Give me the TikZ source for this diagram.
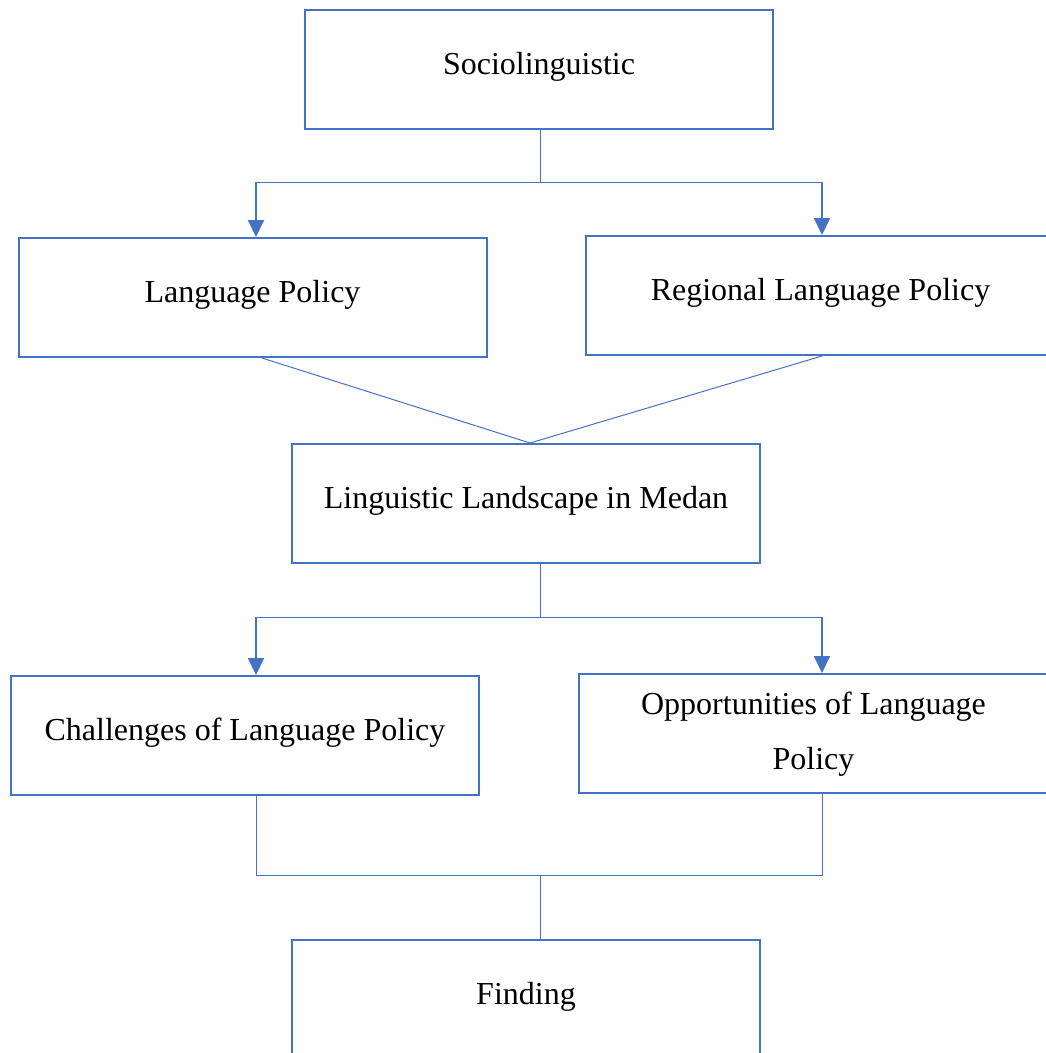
\documentclass[tikz,border=0pt]{standalone}
\usepackage{fontspec}
\setmainfont{Liberation Serif}
\usetikzlibrary{arrows.meta}
\definecolor{wblue}{HTML}{4472C4}
\begin{document}
\begin{tikzpicture}[x=1pt,y=-1pt,
  box/.style={draw=wblue,line width=2pt,inner sep=0pt,minimum width=468pt,minimum height=119pt,
    font=\fontsize{32}{55}\selectfont,align=center,text depth=12pt},
  conn/.style={draw=wblue,line width=1pt},
  arr/.style={draw=wblue,line width=2pt,-{Triangle[width=16pt,length=17pt]}}]
\useasboundingbox (0,0) rectangle (1046,1053);
\clip (0,0) rectangle (1046,1053);
\node[box] (soc) at (539,69.5) {Sociolinguistic};
\node[box] (lp) at (252.5,297.5) {Language Policy};
\node[box,minimum width=469pt] (rlp) at (820.5,295.5) {Regional Language Policy};
\node[box] (ll) at (526,503.5) {Linguistic Landscape in Medan};
\node[box] (ch) at (245,735.5) {Challenges of Language Policy};
\node[box,minimum width=469pt,text depth=6pt] (op) at (813.5,733.5) {Opportunities of Language\\Policy};
\node[box] (fi) at (526,999.5) {Finding};
% top bus
\coordinate (j1) at (540,182);
\coordinate (a1) at (256,182);
\coordinate (a2) at (822,182);
\draw[conn] ([xshift=1pt]soc.south) -- (j1);
\draw[conn] (a1) -- (a2);
\draw[arr] (a1) -- (lp.north -| a1);
\draw[arr] (a2) -- (rlp.north -| a2);
% converging lines
\coordinate (m) at (530,444);
\draw[conn] ([xshift=9.5pt]lp.south) -- (ll.north -| m);
\draw[conn] ([xshift=1.5pt]rlp.south) -- (ll.north -| m);
% middle bus
\coordinate (j2) at (540,617);
\coordinate (b1) at (256,617);
\coordinate (b2) at (822,617);
\draw[conn] (ll.south -| j2) -- (j2);
\draw[conn] (b1) -- (b2);
\draw[arr] (b1) -- (ch.north -| b1);
\draw[arr] (b2) -- (op.north -| b2);
% bottom bus
\coordinate (c1) at (256,875);
\coordinate (c2) at (822,875);
\coordinate (j3) at (540,875);
\draw[conn] (ch.south -| c1) -- (c1) -- (c2) -- (op.south -| c2);
\draw[conn] (j3) -- (fi.north -| j3);
\end{tikzpicture}
\end{document}
